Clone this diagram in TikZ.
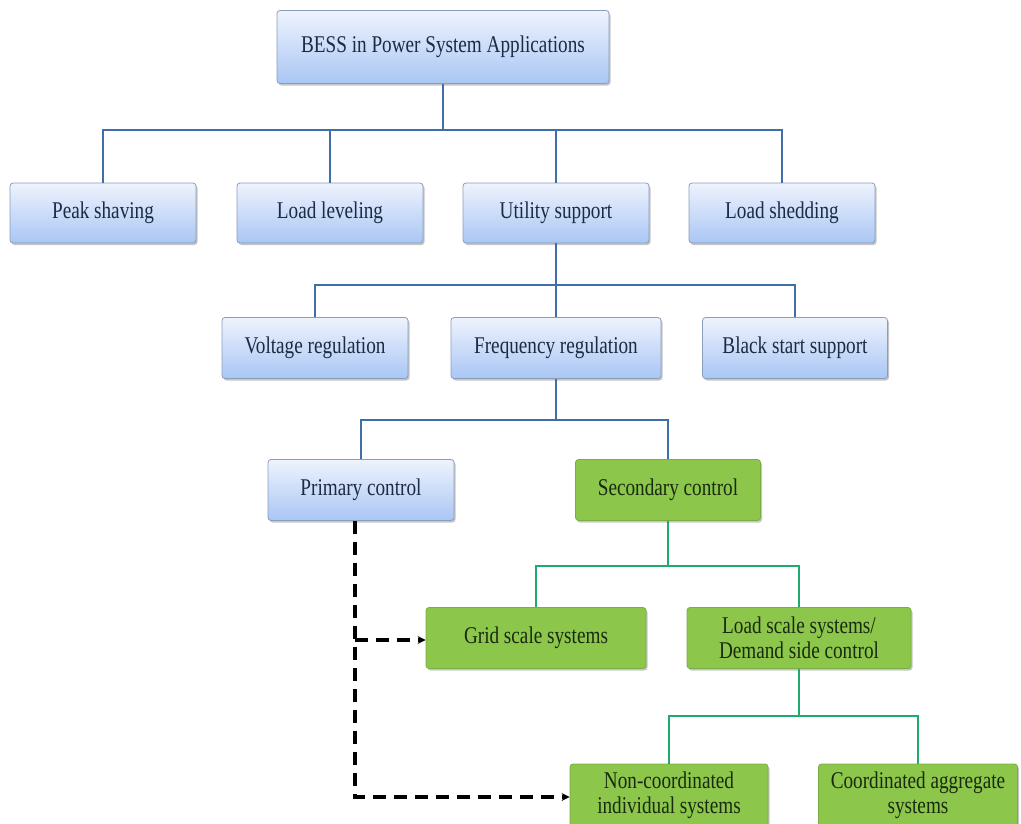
\documentclass[tikz,border=0pt]{standalone}
\usepackage{fontspec}
\setmainfont{Liberation Serif}[FakeStretch=0.8]
\usetikzlibrary{shadows,arrows.meta}
\definecolor{bluetop}{HTML}{EEF3FD}
\definecolor{bluebot}{HTML}{A9C6F4}
\definecolor{blueedge}{HTML}{8A9DBD}
\definecolor{greenfill}{HTML}{8CC64A}
\definecolor{greenedge}{HTML}{7AAE45}
\definecolor{blueline}{HTML}{3F6FA6}
\definecolor{greenline}{HTML}{1FAA6E}
\definecolor{bluetext}{HTML}{1C2A44}
\definecolor{greentext}{HTML}{1A2A10}
\tikzset{
  bbox/.style={draw=blueedge, line width=0.8pt, rounded corners=3pt,
    top color=bluetop, bottom color=bluebot, text=bluetext,
    drop shadow={shadow xshift=1.5pt, shadow yshift=-2pt, fill=black!45, opacity=0.5},
    font=\fontsize{24}{25}\selectfont, align=center, inner sep=0pt},
  gbox/.style={draw=greenedge, line width=0.8pt, rounded corners=3pt,
    fill=greenfill, text=greentext,
    drop shadow={shadow xshift=1.5pt, shadow yshift=-2pt, fill=black!45, opacity=0.5},
    font=\fontsize{24}{25}\selectfont, align=center, inner sep=0pt},
  bline/.style={draw=blueline, line width=2.8pt},
  gline/.style={draw=greenline, line width=2.8pt},
  dline/.style={draw=black, line width=3.4pt, dash pattern=on 13pt off 8pt},
}
\begin{document}
\begin{tikzpicture}[x=1pt,y=-1pt]
\useasboundingbox (0,0) rectangle (1021,823);
% nodes
\node[bbox, minimum width=332pt, minimum height=73pt] (root) at (443,47) {BESS in Power System Applications};
\node[bbox, minimum width=186pt, minimum height=60pt] (peak) at (103,213) {Peak shaving};
\node[bbox, minimum width=186pt, minimum height=60pt] (level) at (330,213) {Load leveling};
\node[bbox, minimum width=186pt, minimum height=60pt] (util) at (556,213) {Utility support};
\node[bbox, minimum width=186pt, minimum height=60pt] (shed) at (782,213) {Load shedding};
\node[bbox, minimum width=186pt, minimum height=61pt] (volt) at (315,348) {Voltage regulation};
\node[bbox, minimum width=210pt, minimum height=61pt] (freq) at (556,348) {Frequency regulation};
\node[bbox, minimum width=185pt, minimum height=61pt] (black) at (795,348) {Black start support};
\node[bbox, minimum width=186pt, minimum height=61pt] (prim) at (361,490) {Primary control};
\node[gbox, minimum width=185pt, minimum height=61pt] (sec) at (668,490) {Secondary control};
\node[gbox, minimum width=220pt, minimum height=61pt] (grid) at (536,638) {Grid scale systems};
\node[gbox, minimum width=224pt, minimum height=61pt] (loadsc) at (799,638) {Load scale systems/\\Demand side control};
\node[gbox, minimum width=198pt, minimum height=62pt] (noncoord) at (669,795) {Non-coordinated\\individual systems};
\node[gbox, minimum width=199pt, minimum height=62pt] (coord) at (918,795) {Coordinated aggregate\\systems};
% coordinates
\coordinate (b1) at (443,130);
\coordinate (b2) at (556,285);
\coordinate (b3) at (556,420);
\coordinate (b4) at (668,566);
\coordinate (b5) at (799,716);
\coordinate (dtop) at (355,521);
\coordinate (dmid) at (355,640);
\coordinate (dbot) at (355,797);
% blue connectors
\draw[bline] (root.south) -- (b1);
\draw[bline] (peak.north) -- (peak.north |- b1) -- (shed.north |- b1) -- (shed.north);
\draw[bline] (level.north) -- (level.north |- b1);
\draw[bline] (util.north) -- (util.north |- b1);
\draw[bline] (util.south) -- (b2);
\draw[bline] (volt.north) -- (volt.north |- b2) -- (black.north |- b2) -- (black.north);
\draw[bline] (freq.north) -- (freq.north |- b2);
\draw[bline] (freq.south) -- (b3);
\draw[bline] (prim.north) -- (prim.north |- b3) -- (sec.north |- b3) -- (sec.north);
% green connectors
\draw[gline] (sec.south) -- (b4);
\draw[gline] (grid.north) -- (grid.north |- b4) -- (loadsc.north |- b4) -- (loadsc.north);
\draw[gline] (loadsc.south) -- (b5);
\draw[gline] (noncoord.north) -- (noncoord.north |- b5) -- (coord.north |- b5) -- (coord.north);
% dashed connectors
\draw[dline, -{Stealth[length=8pt,width=8pt]}] (dtop) -- (dbot) -- (noncoord.west |- dbot);
\draw[dline, -{Stealth[length=8pt,width=8pt]}] (dmid) -- (grid.west |- dmid);
\end{tikzpicture}
\end{document}
